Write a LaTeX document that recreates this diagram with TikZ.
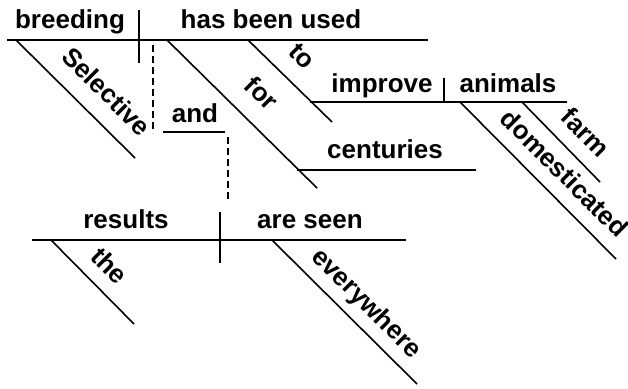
\documentclass[tikz,border=0pt]{standalone}
\usepackage{fontspec}
\setmainfont{Liberation Sans}
\usetikzlibrary{positioning}
\begin{document}
\begin{tikzpicture}[x=1pt,y=-1pt]
\tikzstyle{word}=[font=\bfseries\fontsize{26}{30}\selectfont, inner sep=0pt, anchor=base]
\tikzstyle{slant}=[font=\bfseries\fontsize{26}{30}\selectfont, inner sep=0pt, anchor=mid, rotate=-45]
\tikzstyle{rule}=[line width=1.6pt]
\tikzstyle{link}=[line width=1.6pt, dash pattern=on 7pt off 4pt]
\useasboundingbox (0,0) rectangle (628,388);
	% first clause
	\coordinate (m_l) at (7,40);
	\coordinate (m_r) at (428,40);
	\coordinate (d1_t) at (139,10);
	\coordinate (d1_b) at (139,63);
	\coordinate (sel_a) at (16,40);
	\coordinate (sel_b) at (135,158);
	\coordinate (for_a) at (167,40);
	\coordinate (for_b) at (317,188);
	\coordinate (cen_l) at (297,170);
	\coordinate (cen_r) at (476,170);
	\coordinate (to_a) at (248,40);
	\coordinate (to_b) at (332,122);
	\coordinate (imp_l) at (310,102);
	\coordinate (imp_r) at (567,102);
	\coordinate (d2_t) at (444,78);
	\coordinate (d2_b) at (444,102);
	\coordinate (dom_a) at (460,102);
	\coordinate (dom_b) at (616,259);
	\coordinate (farm_a) at (522,102);
	\coordinate (farm_b) at (600,182);
	% conjunction
	\coordinate (c1_t) at (153,45);
	\coordinate (c1_b) at (153,133);
	\coordinate (and_l) at (163,132);
	\coordinate (and_r) at (225,132);
	\coordinate (c2_t) at (228,137);
	\coordinate (c2_b) at (228,202);
	% second clause
	\coordinate (b_l) at (32,240);
	\coordinate (b_r) at (406,240);
	\coordinate (d3_t) at (220,212);
	\coordinate (d3_b) at (220,263);
	\coordinate (the_a) at (51,240);
	\coordinate (the_b) at (134,324);
	\coordinate (ev_a) at (272,240);
	\coordinate (ev_b) at (417,384);

	\node[word] (w_breeding) at (70,28) {breeding};
	\node[word] (w_used) at (271,28) {has been used};
	\node[slant] (w_selective) at (102,96) {Selective};
	\node[slant] (w_for) at (257,98) {for};
	\node[slant] (w_to) at (298,60) {to};
	\node[word] (w_improve) at (382,92) {improve};
	\node[word] (w_animals) at (508,92) {animals};
	\node[slant] (w_dom) at (560,178) {domesticated};
	\node[slant] (w_farm) at (581,137) {farm};
	\node[word] (w_centuries) at (385,158) {centuries};
	\node[word] (w_and) at (195,122) {and};
	\node[word] (w_results) at (126,228) {results};
	\node[word] (w_seen) at (310,228) {are seen};
	\node[slant] (w_the) at (105,270) {the};
	\node[slant] (w_every) at (363,307) {everywhere};

	\draw[rule] (m_l) -- (m_r);
	\draw[rule] (d1_t) -- (d1_b);
	\draw[rule] (sel_a) -- (sel_b);
	\draw[rule] (for_a) -- (for_b);
	\draw[rule] (cen_l) -- (cen_r);
	\draw[rule] (to_a) -- (to_b);
	\draw[rule] (imp_l) -- (imp_r);
	\draw[rule] (d2_t) -- (d2_b);
	\draw[rule] (dom_a) -- (dom_b);
	\draw[rule] (farm_a) -- (farm_b);
	\draw[link] (c1_t) -- (c1_b);
	\draw[rule] (and_l) -- (and_r);
	\draw[link] (c2_t) -- (c2_b);
	\draw[rule] (b_l) -- (b_r);
	\draw[rule] (d3_t) -- (d3_b);
	\draw[rule] (the_a) -- (the_b);
	\draw[rule] (ev_a) -- (ev_b);
\end{tikzpicture}
\end{document}
